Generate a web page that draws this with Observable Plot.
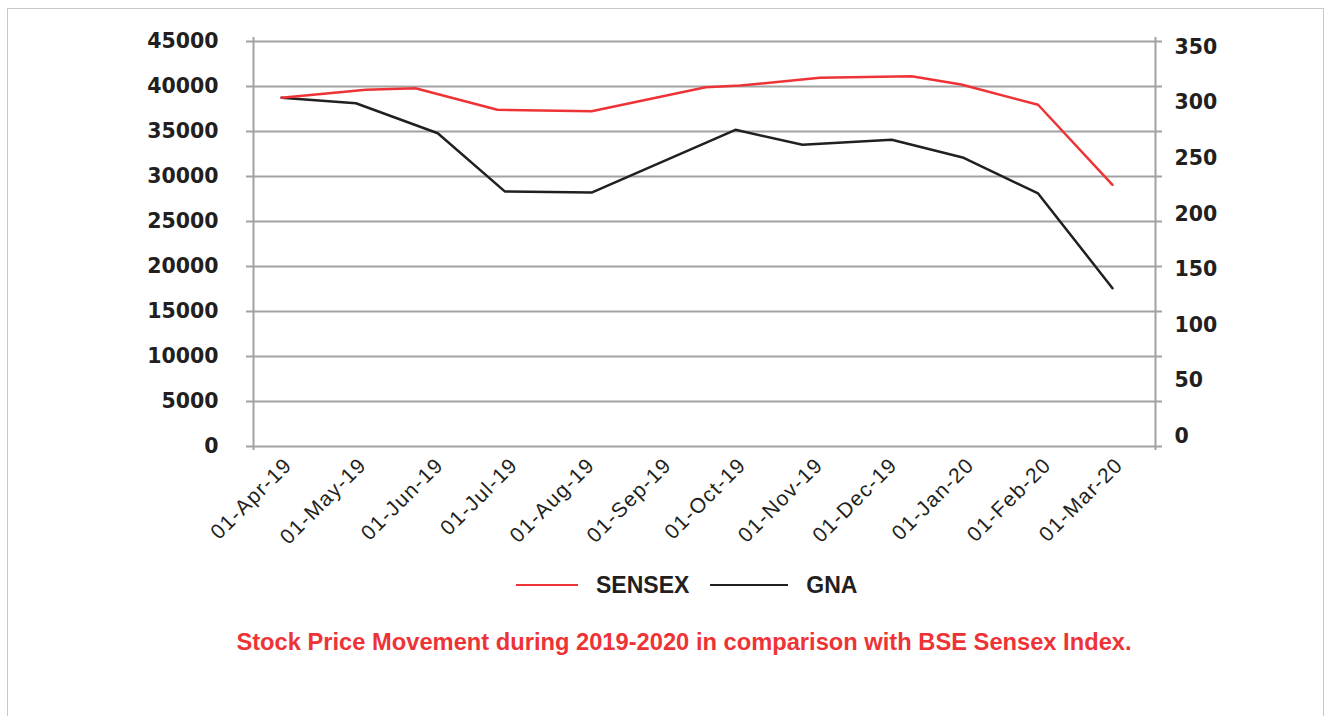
<!DOCTYPE html>
<html>
<head>
<meta charset="utf-8">
<script src="https://cdn.jsdelivr.net/npm/d3@7"></script>
<script src="https://cdn.jsdelivr.net/npm/@observablehq/plot@0.6"></script>
<style>
  html, body { margin: 0; padding: 0; background: #fff; width: 1328px; height: 716px; overflow: hidden; }
  #frame { position: absolute; left: 7px; top: 8px; width: 1317px; height: 720px; border: 1px solid #c9c9c9; box-sizing: border-box; }
  #chart { position: absolute; left: 0; top: 0; }
  #legend { position: absolute; left: 516px; top: 570px; height: 30px; display: flex; align-items: center;
            font-family: "Liberation Sans", Arial, sans-serif; font-weight: bold; font-size: 23px; color: #231f20; }
  #legend .sw { display: inline-block; height: 2.5px; }
  #caption { position: absolute; left: 0; width: 1368px; top: 629px; text-align: center;
             font-family: "Liberation Sans", Arial, sans-serif; font-weight: bold; font-size: 23.7px; color: #ee3337; }
  g[aria-label="x-axis tick label"] text { letter-spacing: 1.3px; }
</style>
</head>
<body>
<div id="frame"></div>
<div id="chart"></div>
<div id="legend">
  <span class="sw" style="width:62px;background:#ee3337"></span>
  <span style="margin-left:18px">SENSEX</span>
  <span class="sw" style="width:78px;background:#231f20;margin-left:21px"></span>
  <span style="margin-left:18px">GNA</span>
</div>
<div id="caption">Stock Price Movement during 2019-2020 in comparison with BSE Sensex Index.</div>
<script>
// ---- data ----
const sensexDates  = ["2019-04-01","2019-05-05","2019-05-25","2019-06-27","2019-08-04","2019-09-19","2019-10-03","2019-11-04","2019-12-11","2019-12-31","2020-01-31","2020-03-01"];
const sensexValues = [38750, 39630, 39810, 37410, 37260, 39920, 40110, 40970, 41150, 40220, 37970, 29080];
const gnaDates  = ["2019-04-01","2019-05-01","2019-06-03","2019-06-30","2019-08-04","2019-10-01","2019-10-28","2019-12-03","2020-01-01","2020-01-31","2020-03-01"];
const gnaValues = [304.6, 299.7, 272.7, 220.3, 219.3, 275.8, 262.3, 266.8, 250.6, 218.5, 133.2];
const monthTicks = ["2019-04-01","2019-05-01","2019-06-01","2019-07-01","2019-08-01","2019-09-01","2019-10-01","2019-11-01","2019-12-01","2020-01-01","2020-02-01","2020-03-01"];
const leftTicks  = [0, 5000, 10000, 15000, 20000, 25000, 30000, 35000, 40000, 45000];
const rightTicks = [0, 50, 100, 150, 200, 250, 300, 350];

// ---- build ----
const sensex = sensexDates.map((d, i) => ({date: new Date(d), value: sensexValues[i]}));
const gna = gnaDates.map((d, i) => ({date: new Date(d), value: gnaValues[i]}));
const months = monthTicks.map(d => new Date(d));
// secondary (GNA) axis expressed in primary-axis units
const gnaToLeft = d3.scaleLinear([0, 350], [1150, 44350]);
const xDomain = [new Date("2019-03-20T17:00Z"), new Date("2020-03-18T08:00Z")];
const grid = "#a2a2a4";
const numFont = "DejaVu Sans";

const chart = Plot.plot({
  width: 1328,
  height: 560,
  marginTop: 41,
  marginBottom: 114,
  marginLeft: 253,
  marginRight: 173,
  style: {background: "transparent", fontFamily: "Liberation Sans, Arial, sans-serif"},
  x: {type: "utc", domain: xDomain},
  y: {domain: [0, 45000]},
  marks: [
    Plot.ruleY(leftTicks, {stroke: grid, strokeWidth: 2, insetLeft: -7, insetRight: -7}),
    Plot.ruleX(xDomain, {stroke: grid, strokeWidth: 2, insetTop: -4, insetBottom: -4}),
    Plot.axisY(leftTicks, {tickSize: 0, tickPadding: 35, label: null, fontSize: 20.5, fontWeight: "bold",
      fontFamily: numFont, color: "#231f20", tickFormat: d => String(d)}),
    Plot.text(rightTicks, {y: d => gnaToLeft(d), text: d => String(d), frameAnchor: "right", dx: 19,
      textAnchor: "start", fontSize: 20.5, fontWeight: "bold", fontFamily: numFont, fill: "#231f20"}),
    Plot.axisX(months, {tickRotate: -45, tickSize: 0, tickPadding: 15, label: null, fontSize: 21,
      color: "#231f20", tickFormat: d3.utcFormat("%d-%b-%y"), dx: 7}),
    Plot.line(gna, {x: "date", y: d => gnaToLeft(d.value), stroke: "#231f20", strokeWidth: 2.5}),
    Plot.line(sensex, {x: "date", y: "value", stroke: "#ee3337", strokeWidth: 2.5})
  ]
});
document.getElementById("chart").appendChild(chart);
</script>
</body>
</html>
